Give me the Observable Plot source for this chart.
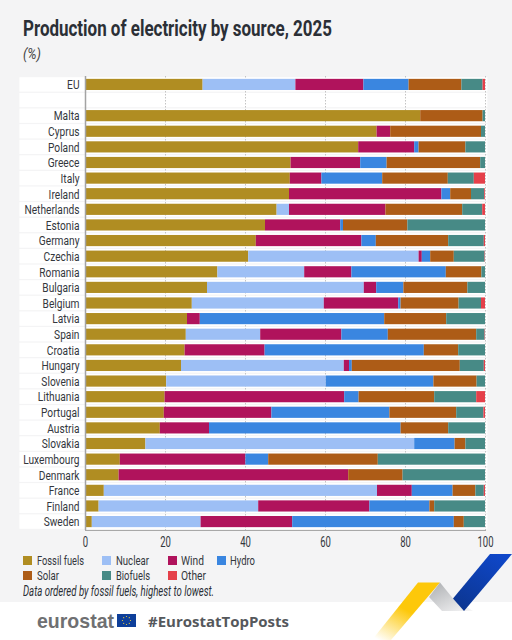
<!DOCTYPE html>
<html><head><meta charset="utf-8">
<script src="https://cdn.jsdelivr.net/npm/d3@7"></script>
<script src="https://cdn.jsdelivr.net/npm/@observablehq/plot@0.6"></script>
<style>
html,body{margin:0;padding:0;background:#fff;width:512px;height:640px;overflow:hidden}
#page{position:relative;width:512px;height:640px;font-family:Roboto,sans-serif;color:#2b2f36}
#bg{position:absolute;left:0;top:0;width:512px;height:602px;background:#f4f4f5}
#title{position:absolute;left:23px;top:14px;font-size:22.5px;font-weight:700;line-height:28px;white-space:nowrap;transform-origin:0 50%}
#unit{position:absolute;left:23px;top:47px;font-size:14.5px;font-style:italic;line-height:16px;color:#444;transform-origin:0 50%}
#chart{position:absolute;left:0;top:0}
#chart svg{background:transparent;display:block}
.lg{position:absolute;font-size:13px;line-height:15.3px;white-space:nowrap;color:#33373d;transform-origin:0 50%}
.sw{position:absolute;width:9px;height:9px}
#note{position:absolute;left:22.5px;top:585px;font-size:14.5px;font-style:italic;line-height:14px;white-space:nowrap;color:#2b2f36;transform-origin:0 50%}
#eurostat{position:absolute;left:37px;top:610px;font-family:"Liberation Sans",sans-serif;font-weight:700;font-size:20.5px;line-height:22px;color:#6f7072;transform-origin:0 50%}
#tag{position:absolute;left:148px;top:610px;font-family:"Open Sans",sans-serif;font-weight:700;font-size:15px;line-height:22px;color:#55585c;white-space:nowrap;transform-origin:0 50%}
#deco{position:absolute;left:0;top:0}
</style></head>
<body><div id="page">
<div id="bg"></div>
<div id="title">Production of electricity by source, 2025</div>
<div id="unit">(%)</div>
<div id="chart"></div>
<div id="legend"></div>
<div id="note">Data ordered by fossil fuels, highest to lowest.</div>
<svg id="deco" width="512" height="640" viewBox="0 0 512 640">
<defs>
<linearGradient id="gy" x1="0.75" y1="0" x2="0.1" y2="1"><stop offset="0.45" stop-color="#fdc80a"/><stop offset="1" stop-color="#fdc80a" stop-opacity="0"/></linearGradient>
<linearGradient id="gg" x1="0.1" y1="0" x2="0.9" y2="1"><stop offset="0" stop-color="#aeb0b3"/><stop offset="1" stop-color="#f4f4f5"/></linearGradient>
<linearGradient id="gb" x1="0.8" y1="0" x2="0.2" y2="1"><stop offset="0" stop-color="#0f47c9"/><stop offset="1" stop-color="#0c3691"/></linearGradient>
</defs>
<path d="M418 582.5H440L391 640H372Z" fill="url(#gy)"/>
<path d="M440 582.5L453 598.5L473 611L442 611L429 597Z" fill="url(#gg)"/>
<path d="M490 554H512L464 611L453 598.5Z" fill="url(#gb)"/>
<rect x="117" y="614" width="19" height="13" fill="#0e3f9a"/>
<g fill="#f3d23a"><circle cx="126.5" cy="616.5" r=".6"/><circle cx="126.5" cy="624.5" r=".6"/><circle cx="122.5" cy="620.5" r=".6"/><circle cx="130.5" cy="620.5" r=".6"/><circle cx="123.7" cy="617.7" r=".6"/><circle cx="129.3" cy="617.7" r=".6"/><circle cx="123.7" cy="623.3" r=".6"/><circle cx="129.3" cy="623.3" r=".6"/></g>
</svg>
<div id="eurostat">eurostat</div>
<div id="tag">#EurostatTopPosts</div>
</div>
<script>
const countries = ["EU"," ","Malta","Cyprus","Poland","Greece","Italy","Ireland","Netherlands","Estonia","Germany","Czechia","Romania","Bulgaria","Belgium","Latvia","Spain","Croatia","Hungary","Slovenia","Lithuania","Portugal","Austria","Slovakia","Luxembourg","Denmark","France","Finland","Sweden"];
const sources = ["Fossil fuels","Nuclear","Wind","Hydro","Solar","Biofuels","Other"];
const colors = ["#b08d22","#9dbff5","#b0135c","#3a86e0","#ad5c17","#478a86","#e5404a"];
const fossil  = [29.4,0,83.8,72.9,68.3,51.4,51.2,51.0,47.9,45.0,42.7,40.8,33.1,30.5,26.7,25.5,25.2,24.9,24.0,20.3,19.9,19.7,18.7,15.1,8.7,8.4,4.7,3.4,1.7];
const nuclear = [23.2,0,0,0,0,0,0,0,3.1,0,0,42.6,21.7,39.2,33.0,0,18.6,0,40.7,39.9,0,0,0,67.2,0,0,68.3,39.9,27.2];
const wind    = [17.0,0,0,3.4,14.0,17.4,7.9,38.1,24.1,18.8,26.4,0.8,11.8,3.1,18.6,3.2,20.3,20.0,1.3,0,44.9,26.9,12.3,0,31.4,57.4,8.7,27.8,22.9];
const hydro   = [11.3,0,0,0,1.1,6.6,15.2,2.2,0,0.7,3.6,2.1,23.6,6.8,0.6,46.1,11.6,39.8,0.7,26.9,3.6,29.5,47.9,10.1,5.7,0,10.2,15.0,40.4];
const solar   = [13.2,0,15.6,22.7,11.7,23.4,16.4,5.2,19.2,16.1,18.1,5.9,8.9,16.0,14.5,15.5,22.1,8.6,27.0,10.8,18.9,16.7,11.9,2.7,27.4,13.6,5.7,1.2,2.5];
const biofuels= [5.3,0,0.6,1.0,4.9,1.2,6.5,3.3,5.0,19.4,8.9,7.7,0.9,4.4,5.6,9.7,2.1,6.7,6.0,2.1,10.5,6.8,9.2,4.9,26.8,20.6,2.1,12.7,5.3];
const other   = [0.6,0,0,0,0,0,2.8,0.2,0.7,0,0.3,0.1,0,0,1.0,0,0.1,0,0.3,0,2.2,0.4,0,0,0,0,0.3,0,0];
const xTicks = [0,20,40,60,80,100];
const series = [fossil,nuclear,wind,hydro,solar,biofuels,other];

const rows = sources.flatMap((source,s)=>countries.map((country,c)=>({country,source,value:series[s][c]}))).filter(d=>d.value>0);

const plot = Plot.plot({
  width:512,height:556,
  marginTop:76,marginBottom:26,marginLeft:85,marginRight:27,
  style:{background:"transparent",fontFamily:"Roboto,sans-serif"},
  x:{domain:[0,100],label:null},
  y:{domain:countries,padding:0.08,round:false,label:null},
  color:{domain:sources,range:colors},
  marks:[
    Plot.barX(countries,{y:d=>d,x1:()=>-16.4,x2:()=>100.6,fill:"#fff"}),
    Plot.ruleX(xTicks.slice(1),{stroke:"#c4c4c4",strokeWidth:1,strokeDasharray:"1.5,1.5"}),
    Plot.barX(rows,{x:"value",y:"country",fill:"source",order:sources,insetTop:1.6,insetBottom:1.6}),
    Plot.frame({anchor:"bottom",stroke:"#a8a8a8",strokeWidth:1}),
    Plot.ruleX([0],{stroke:"#a3a3a3",strokeWidth:1.5}),
    Plot.axisY({tickSize:0,tickPadding:6,fontSize:13.4,fill:"#33373d",label:null}),
    Plot.axisX({ticks:xTicks,tickSize:0,tickPadding:7,fontSize:14,fill:"#33373d",label:null,tickFormat:d=>d})
  ]
});
document.getElementById("chart").append(plot);

// No condensed face is installed: narrow the axis labels horizontally about their anchor.
function narrow(sel,k){
  plot.querySelectorAll(sel+" text").forEach(t=>{
    t.setAttribute("transform",`${t.getAttribute("transform")||""} scale(${k},1)`);
  });
}
narrow('[aria-label^="y-axis"]',0.76);
narrow('[aria-label^="x-axis"]',0.68);

// legend
const lgPos=[[23,37,560.3,47],[102,116,560.3,33],[168,181,560.3,23],[217,230,560.3,25],[23,37,575.7,22],[102,116,575.7,34],[168,181,575.7,25]];
const lg=document.getElementById("legend");
const fit=(el,w)=>{el.style.transform=`scaleX(${w/el.getBoundingClientRect().width})`;};
sources.forEach((s,i)=>{
  const [sx,tx,cy,w]=lgPos[i];
  const sw=document.createElement("div");sw.className="sw";sw.style.cssText=`left:${sx}px;top:${cy-4.5}px;background:${colors[i]}`;lg.append(sw);
  const t=document.createElement("div");t.className="lg";t.textContent=s;t.style.left=tx+"px";t.style.top=(cy-7.6)+"px";lg.append(t);fit(t,w);
});
fit(document.getElementById("title"),309);
fit(document.getElementById("unit"),18);
fit(document.getElementById("note"),191);
fit(document.getElementById("eurostat"),77);
fit(document.getElementById("tag"),141);
</script>
</body></html>
